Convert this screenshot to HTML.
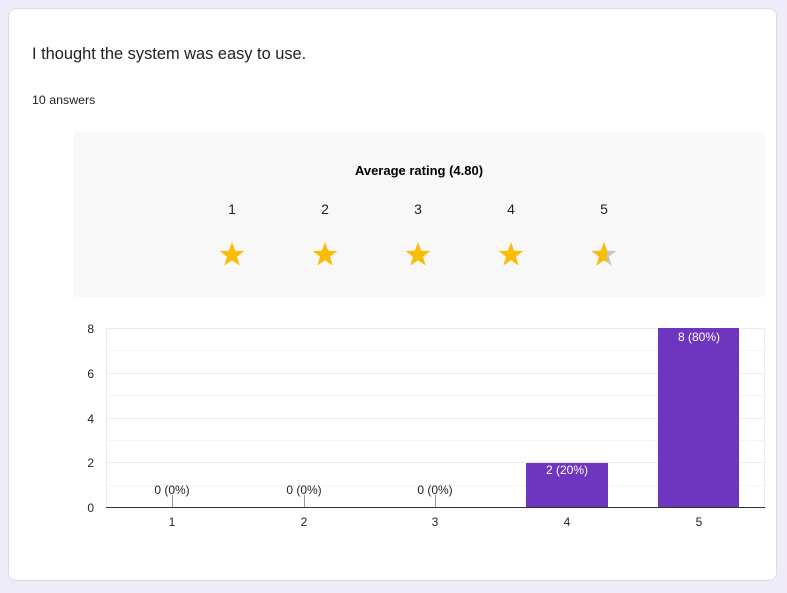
<!DOCTYPE html>
<html><head><style>
body{margin:0;width:787px;height:593px;background:#f0ebf8;font-family:"Liberation Sans",Arial,sans-serif;position:relative;overflow:hidden}
.card{position:absolute;left:8px;top:8px;width:769px;height:573px;background:#fff;border:1px solid #dadce0;border-radius:8px;box-sizing:border-box}
.t{position:absolute;color:#202124}
</style></head><body>
<div class="card"></div>
<div class="t" style="left:32px;top:45px;font-size:16.4px">I thought the system was easy to use.</div>
<div class="t" style="left:32px;top:93px;font-size:12.4px">10 answers</div>
<div style="position:absolute;left:73px;top:132px;width:692px;height:165px;background:#f8f8f8;border-radius:4px"></div>
<svg width="787" height="593" style="position:absolute;left:0;top:0" font-family="Liberation Sans,Arial,sans-serif">
<defs>
<path id="s" d="M0,-13 L3.1,-4.2 L12.4,-4 L5,1.6 L7.6,10.5 L0,5.2 L-7.6,10.5 L-5,1.6 L-12.4,-4 L-3.1,-4.2Z"/>
<clipPath id="h" clipPathUnits="userSpaceOnUse"><rect x="588" y="230" width="19" height="40"/></clipPath>
</defs>
<text x="419" y="175" font-size="13" font-weight="bold" text-anchor="middle" fill="#000">Average rating (4.80)</text>
<g font-size="14" text-anchor="middle" fill="#202124">
<text x="232" y="214">1</text><text x="325" y="214">2</text><text x="418" y="214">3</text><text x="511" y="214">4</text><text x="604" y="214">5</text></g>
<g fill="#fbbc04">
<use href="#s" x="232" y="255"/><use href="#s" x="325" y="255"/><use href="#s" x="418" y="255"/><use href="#s" x="511" y="255"/></g>
<use href="#s" x="604" y="255" fill="#c6c6c6"/>
<g clip-path="url(#h)"><path transform="translate(604,255)" fill="#fbbc04" d="M0,-13 L3.1,-4.2 L12.4,-4 L5,1.6 L7.6,10.5 L0,5.2 L-7.6,10.5 L-5,1.6 L-12.4,-4 L-3.1,-4.2Z"/></g>
<g stroke="#ebebeb" stroke-width="1">
<line x1="106" x2="765" y1="328.5" y2="328.5"/><line x1="106" x2="765" y1="350.5" y2="350.5" stroke="#f4f4f4"/>
<line x1="106" x2="765" y1="373.5" y2="373.5"/><line x1="106" x2="765" y1="395.5" y2="395.5" stroke="#f4f4f4"/>
<line x1="106" x2="765" y1="418.5" y2="418.5"/><line x1="106" x2="765" y1="440.5" y2="440.5" stroke="#f4f4f4"/>
<line x1="106" x2="765" y1="462.5" y2="462.5"/><line x1="106" x2="765" y1="485.5" y2="485.5" stroke="#f4f4f4"/>
<line x1="106.5" x2="106.5" y1="328" y2="507"/><line x1="764.5" x2="764.5" y1="328" y2="507"/>
</g>
<rect x="526" y="463" width="82" height="44" fill="#6e36be"/>
<rect x="658" y="328" width="81" height="179" fill="#6e36be"/>
<line x1="106" x2="765" y1="507.5" y2="507.5" stroke="#333"/>
<g stroke="#999"><line x1="172.5" x2="172.5" y1="495" y2="507"/><line x1="304.5" x2="304.5" y1="495" y2="507"/><line x1="435.5" x2="435.5" y1="495" y2="507"/></g>
<g font-size="12" text-anchor="middle" fill="#222">
<text x="172" y="494">0 (0%)</text><text x="304" y="494">0 (0%)</text><text x="435" y="494">0 (0%)</text>
<text x="567" y="474" fill="#fff">2 (20%)</text><text x="699" y="341" fill="#fff">8 (80%)</text>
<text x="172" y="526">1</text><text x="304" y="526">2</text><text x="435" y="526">3</text><text x="567" y="526">4</text><text x="699" y="526">5</text>
</g>
<g font-size="12" text-anchor="end" fill="#222">
<text x="94" y="333">8</text><text x="94" y="378">6</text><text x="94" y="423">4</text><text x="94" y="467">2</text><text x="94" y="512">0</text></g>
</svg>
</body></html>
